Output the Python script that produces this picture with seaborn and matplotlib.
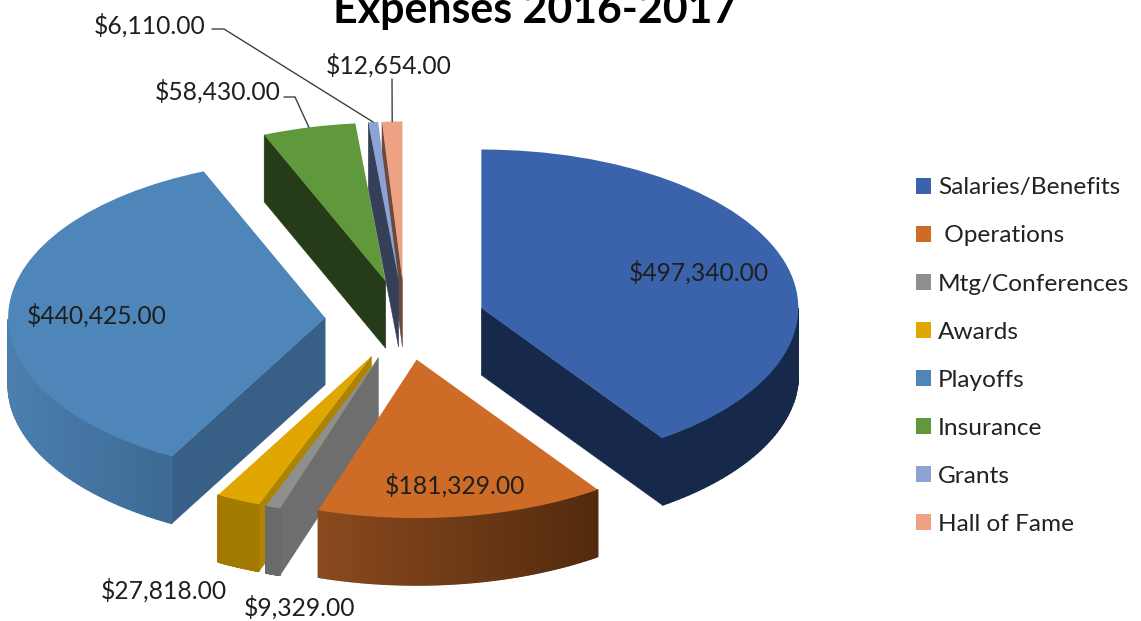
import numpy as np
import seaborn as sns
import matplotlib
matplotlib.use("Agg")
import matplotlib.pyplot as plt
from matplotlib.transforms import Affine2D
from matplotlib.patches import Patch

categories = ["Salaries/Benefits", " Operations", "Mtg/Conferences", "Awards",
              "Playoffs", "Insurance", "Grants", "Hall of Fame"]
values = [497340, 181329, 9329, 27818, 440425, 58430, 6110, 12654]
title = "Expenses 2016-2017"

top_colors = ["#3A63AB", "#CD6B27", "#8F8F8F", "#DFA700", "#4E86BA", "#5F993B", "#8DA3D6", "#EDA283"]
cut_colors = ["#16294A", "#552B0F", "#6E6E6E", "#AD8400", "#385F86", "#263B17", "#363F58", "#6B4A3C"]
wall_left  = ["#16294A", "#8B4A1E", "#6A6A6A", "#A27A00", "#4C7FAE", "#263B17", "#363F58", "#6B4A3C"]
wall_right = ["#16294A", "#532A0E", "#6A6A6A", "#A27A00", "#3C6A94", "#263B17", "#363F58", "#6B4A3C"]

# label centre (pixels from the top left), and leader-line elbow where there is one
label_pos = [(699, 272), (455, 485), (300, 607), (164, 590), (97, 315), (218, 91), (150, 25), (389, 65)]
elbows = {5: [(284, 97), (295, 97)], 6: [(212, 29), (224, 29)], 7: [(392, 79)]}

W, H = 1141, 621
CX, CY, RX, RY = 405.0, 320.0, 317.0, 158.5
DEPTH = 67.0 / RY
EXPLODE = 80.0 / RX

sns.set_theme(style="white")
LABEL_FONT = ["Lato", "DejaVu Sans"]
plt.rcParams["font.family"] = LABEL_FONT

fig = plt.figure(figsize=(W / 100, H / 100), dpi=100)
ax = fig.add_axes([0, 0, 1, 1])
wedges, _ = ax.pie(values, explode=[EXPLODE] * len(values), startangle=90,
                   counterclock=False, colors=sns.color_palette(top_colors), radius=1.0)
ax.set_aspect("auto")
ax.set_xlim(-CX / RX, (W - CX) / RX)
ax.set_ylim((CY - H) / RY, CY / RY)
ax.axis("off")

pix = Affine2D().scale(1, -1).translate(0, H)


def hex2rgb(c):
    return np.array(matplotlib.colors.to_rgb(c))


# paint from the back of the pie to the front
mids = [0.5 * (w.theta1 + w.theta2) for w in wedges]
order = np.argsort([-np.sin(np.radians(m)) for m in mids])

for z, i in enumerate(order):
    w = wedges[i]
    cx, cy = w.center
    base = 10 + 3 * z
    # radial cut faces
    for t, show in ((w.theta1, np.cos(np.radians(w.theta1)) > 0),
                    (w.theta2, np.cos(np.radians(w.theta2)) < 0)):
        if show:
            ex = cx + w.r * np.cos(np.radians(t))
            ey = cy + w.r * np.sin(np.radians(t))
            ax.fill([cx, ex, ex, cx], [cy, ey, ey - DEPTH, cy - DEPTH],
                    color=cut_colors[i], lw=0.4, zorder=base)
    # outer wall (front half of the arc only), shaded left to right
    th = np.radians(np.linspace(w.theta1, w.theta2, 120))
    th = th[np.sin(th) < 0]
    if len(th) > 1:
        xs = cx + w.r * np.cos(th)
        ys = cy + w.r * np.sin(th)
        xmin, xmax = xs.min(), xs.max()
        cl, cr = hex2rgb(wall_left[i]), hex2rgb(wall_right[i])
        for j in range(len(th) - 1):
            f = (0.5 * (xs[j] + xs[j + 1]) - xmin) / max(xmax - xmin, 1e-6)
            ax.fill([xs[j], xs[j + 1], xs[j + 1], xs[j]],
                    [ys[j], ys[j + 1], ys[j + 1] - DEPTH, ys[j] - DEPTH],
                    color=cl + (cr - cl) * f, lw=1.0, joinstyle="round", zorder=base + 1)
    w.set_zorder(base + 2)
    w.set_linewidth(0)

# leader lines, ending on the middle of the outer arc
for i, pts in elbows.items():
    w = wedges[i]
    m = np.radians(mids[i])
    end = ax.transData.transform((w.center[0] + w.r * np.cos(m), w.center[1] + w.r * np.sin(m)))
    p = pix.transform(np.array(pts))
    line = np.vstack([p, end])
    ax.plot(line[:, 0], line[:, 1], color="#404040", lw=1.0, transform=None, zorder=60, clip_on=False)

# value labels
for v, (x, y) in zip(values, label_pos):
    ax.text(x, y, f"${v:,.2f}", transform=pix, ha="center", va="center",
            fontsize=17.75, color="#1F1F1F", zorder=70)

ax.text(535, 10, title, transform=pix, ha="center", va="center", fontsize=30.9,
        fontweight="bold", color="black", zorder=70, family=LABEL_FONT)

handles = [Patch(facecolor=c, edgecolor="none") for c in top_colors]
fs = 17.6
ax.legend(handles, categories, loc="upper left", frameon=False, fontsize=fs,
          bbox_to_anchor=(916 / W, 1 - 177.4 / H), bbox_transform=fig.transFigure,
          borderaxespad=0, borderpad=0, handlelength=0.62, handleheight=0.62,
          handletextpad=0.29, labelspacing=1.107, labelcolor="#222222")

fig.savefig("out.png", dpi=100, facecolor="white")
